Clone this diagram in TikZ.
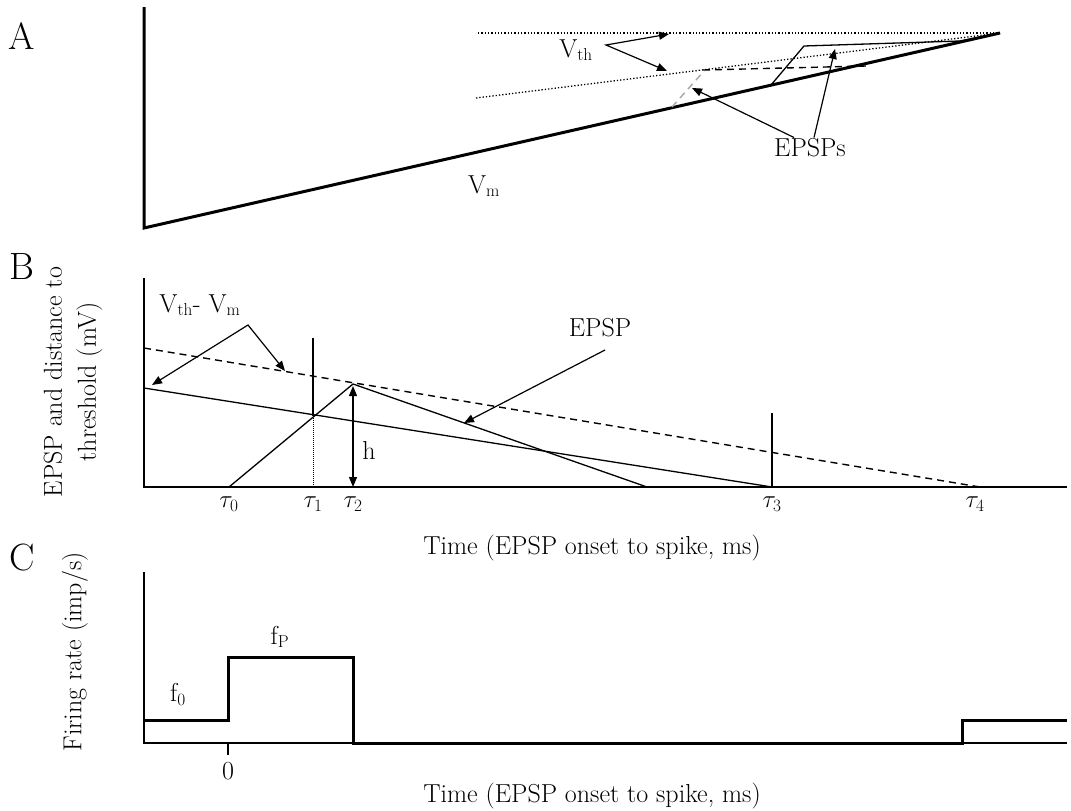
\documentclass[tikz,border=0pt]{standalone}
\usetikzlibrary{arrows.meta}

\begin{document}
\begin{tikzpicture}[
    x=1pt, y=-1pt,
    lbl/.style={font=\fontsize{26}{34}\selectfont, inner sep=1pt},
    panel/.style={font=\fontsize{38}{42}\selectfont, inner sep=0pt},
    ptr/.style={-{Triangle[length=10pt,width=8pt]}, line width=1.2pt},
    both/.style={{Triangle[length=10pt,width=8pt]}-{Triangle[length=10pt,width=8pt]}, line width=1.2pt},
    curve/.style={line width=1.3pt},
    axis/.style={line width=2pt},
    heavy/.style={line width=3pt},
    thr/.style={dotted, line width=1.3pt},
    longdash/.style={dash pattern=on 7pt off 5pt, line width=1.4pt}
]
\useasboundingbox (0,0) rectangle (1071,811);

%% ---- Panel A: membrane potential and threshold ----
\node[panel] (pA) at (22,36) {A};

\coordinate (conv) at (1000,33);
\draw[heavy] (144,7) -- (144,228) -- (conv);
\draw[thr] (478,33) -- (conv);
\draw[thr] (476,98) -- (conv);
\draw[longdash] (703,70) -- (866,66);
\draw[longdash, gray!70] (672,107) -- (704,71);
\draw[curve] (771,85) -- (804,46) -- (960,41) -- (conv);

% V_th pointer
\node[lbl] (vth) at (576,50) {V$_\mathrm{th}$};
\coordinate (vthk) at (606,45);
\coordinate (vthtop) at (669,34);
\coordinate (vthlow) at (667,71);
\draw[both] (vthtop) -- (vthk) -- (vthlow);

% EPSPs pointer
\node[lbl] (epsps) at (810,148) {EPSPs};
\coordinate (epspA) at (692,88);
\coordinate (epspB) at (835,49);
\draw[ptr] ([xshift=-16pt]epsps.north) -- (epspA);
\draw[ptr] ([xshift=4pt]epsps.north) -- (epspB);

\node[lbl] (vm) at (484,186) {V$_\mathrm{m}$};

%% ---- Panel B: EPSP and distance to threshold ----
\node[panel] (pB) at (22,267) {B};
\node[lbl, rotate=90, align=center] (ylabB) at (73,382)
    {EPSP and distance to\\threshold (mV)};

\draw[axis] (144,278) -- (144,487) -- (1067,487);
\draw[longdash] (144,348) -- (980,487);
\draw[curve] (144,388) -- (772,487);
\draw[curve] (229,487) -- (353,384) -- (647,487);
\draw[curve] (313,338) -- (313,416);
\draw[densely dotted, line width=1pt] (313,416) -- (313,487);
\draw[curve] (772,413) -- (772,487);
\draw[both] (353,386) -- (353,487);
\node[lbl] (hB) at (369,450) {h};

% tau ticks
\foreach \k/\xx in {0/229, 1/313, 2/353, 3/772, 4/975}
    \node[lbl] (tau\k) at (\xx,504) {$\tau_\k$};

% V_th - V_m pointer
\node[lbl] (dvB) at (200,305) {V$_\mathrm{th}$- V$_\mathrm{m}$};
\coordinate (dvk) at (248,325);
\coordinate (dvsol) at (152,385);
\coordinate (dvdash) at (285,371);
\draw[both] (dvsol) -- (dvk) -- (dvdash);

% EPSP pointer
\node[lbl] (epspB) at (600,328) {EPSP};
\coordinate (epspfall) at (464,423);
\draw[ptr] (605,350) -- (epspfall);

\node[lbl] (xlabB) at (592,548) {Time (EPSP onset to spike, ms)};

%% ---- Panel C: firing rate ----
\node[panel] (pC) at (22,558) {C};
\node[lbl, rotate=90] (ylabC) at (75,652) {Firing rate (imp/s)};

\draw[axis] (144,572) -- (144,743) -- (1067,743);
\draw[axis] (228,743) -- (228,755);
\draw[heavy] (144,720) -- (228,720) -- (228,657) -- (353,657) -- (353,743)
    -- (962,743) -- (962,720) -- (1067,720);

\node[lbl] (f0) at (178,694) {f$_0$};
\node[lbl] (fp) at (280,637) {f$_\mathrm{P}$};
\node[lbl] (zero) at (228,771) {0};
\node[lbl] (xlabC) at (592,796) {Time (EPSP onset to spike, ms)};

\end{tikzpicture}
\end{document}
